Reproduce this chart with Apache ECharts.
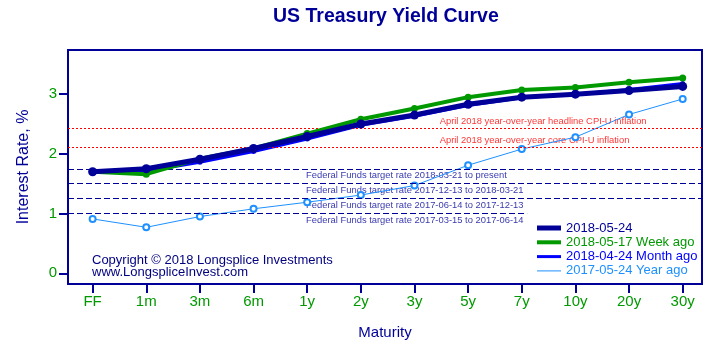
<!DOCTYPE html>
<html><head><meta charset="utf-8">
<script src="https://cdn.jsdelivr.net/npm/echarts@6/dist/echarts.min.js"></script>
<style>html,body{margin:0;padding:0;background:#fff}#c{width:710px;height:360px}</style>
</head><body><div id="c"></div><script>
// ---- data ----
const categories = ['FF','1m','3m','6m','1y','2y','3y','5y','7y','10y','20y','30y'];
const current  = [1.70,1.75,1.91,2.09,2.29,2.50,2.65,2.83,2.95,3.00,3.06,3.13];
const weekAgo  = [1.70,1.66,1.92,2.09,2.34,2.58,2.76,2.95,3.07,3.11,3.20,3.27];
const monthAgo = [1.70,1.71,1.86,2.04,2.25,2.48,2.63,2.81,2.94,3.00,3.08,3.18];
const yearAgo  = [0.91,0.77,0.95,1.08,1.19,1.31,1.47,1.81,2.08,2.28,2.66,2.92];
const seriesNames = ['2018-05-24','2018-05-17 Week ago','2018-04-24 Month ago','2017-05-24 Year ago'];
const yTicks = [0,1,2,3];
const refLevels = [2.43, 2.11, 1.75, 1.50, 1.25, 1.00];
const refTexts = [
  'April 2018 year-over-year headline CPI-U inflation',
  'April 2018 year-over-year core CPI-U inflation',
  'Federal Funds target rate 2018-03-21 to present',
  'Federal Funds target rate 2017-12-13 to 2018-03-21',
  'Federal Funds target rate 2017-06-14 to 2017-12-13',
  'Federal Funds target rate 2017-03-15 to 2017-06-14'
];
const titleText = 'US Treasury Yield Curve';
const copyrightText = 'Copyright \u00a9 2018 Longsplice Investments\nwww.LongspliceInvest.com';

// ---- layout / style ----
const FONT = '"Liberation Sans", Arial, sans-serif';
const NAVY = '#000099', GREEN = '#009900', BLUE = '#0000ff', LIGHT = '#1e90ff', RED = '#ff0000';
const X_MIN = -0.459, X_MAX = 11.36, Y_MIN = -0.18, Y_MAX = 3.74;
const refStyles = [
  {color: RED, type: [2,2]}, {color: RED, type: [2,2]},
  {color: NAVY, type: [6,3]}, {color: NAVY, type: [6,3]}, {color: NAVY, type: [6,3]}, {color: NAVY, type: [6,3]}
];
const refEnds = [X_MAX, X_MAX, X_MAX, X_MAX, X_MAX, 8.1];
const labelX = [6.47, 6.47, 3.98, 3.98, 3.98, 3.98];
const labelDy = [-6.6, -6.6, 6.7, 6.7, 6.7, 6.8];
const labelColor = [RED, RED, NAVY, NAVY, NAVY, NAVY];

const pts = arr => arr.map((v, i) => [i, v]);
const idx = categories.map((_, i) => i);

const chart = echarts.init(document.getElementById('c'), null, {renderer: 'canvas'});
const lineSeries = (name, arr, color, width, symbol, size, z) => ({
  name, type: 'line', data: pts(arr), z,
  symbol, symbolSize: size, showSymbol: true,
  lineStyle: {color, width},
  itemStyle: {color, borderWidth: symbol === 'emptyCircle' ? 1 : 0, borderColor: color},
  emphasis: {disabled: true}, animation: false
});
const legendIcon = (name, h, color) => ({
  name, icon: 'path://M0,0H24V' + h + 'H0Z',
  itemStyle: {color, borderWidth: 0},
  textStyle: {color}
});

const option = {
  animation: false,
  textStyle: {fontFamily: FONT},
  title: [
    {text: titleText, left: 273, top: 7, padding: 0,
     textStyle: {fontFamily: FONT, fontSize: 19.5, fontWeight: 'bold', color: NAVY}},
    {text: copyrightText, left: 92, top: 254, padding: 0,
     textStyle: {fontFamily: FONT, fontSize: 13, fontWeight: 'normal', color: '#000080', lineHeight: 12.4}}
  ],
  grid: {left: 68, right: 8, top: 50, bottom: 76, show: true, borderColor: NAVY, borderWidth: 2, backgroundColor: 'transparent'},
  legend: {
    orient: 'vertical', left: 537, top: 221, padding: 0, itemGap: 0.3,
    itemWidth: 24, itemHeight: 10, symbolKeepAspect: true,
    itemStyle: {borderWidth: 0}, lineStyle: {width: 0},
    textStyle: {fontFamily: FONT, fontSize: 13, lineHeight: 14},
    data: [
      legendIcon(seriesNames[0], 5, NAVY),
      legendIcon(seriesNames[1], 4, GREEN),
      legendIcon(seriesNames[2], 3, BLUE),
      legendIcon(seriesNames[3], 1, LIGHT)
    ]
  },
  xAxis: {
    type: 'value', min: X_MIN, max: X_MAX,
    name: 'Maturity', nameLocation: 'middle', nameGap: 41,
    nameTextStyle: {fontFamily: FONT, fontSize: 15, color: NAVY},
    axisLine: {show: true, onZero: false, lineStyle: {color: NAVY, width: 2}},
    axisTick: {show: true, length: 9, customValues: idx, lineStyle: {color: NAVY, width: 2}},
    axisLabel: {customValues: idx, margin: 10, fontFamily: FONT, fontSize: 15, color: GREEN,
      formatter: v => categories[Math.round(v)]},
    splitLine: {show: false}
  },
  yAxis: {
    type: 'value', min: Y_MIN, max: Y_MAX,
    name: 'Interest Rate, %', nameLocation: 'middle', nameGap: 36,
    nameTextStyle: {fontFamily: FONT, fontSize: 16, color: NAVY},
    axisLine: {show: true, onZero: false, lineStyle: {color: NAVY, width: 2}},
    axisTick: {show: true, length: 9, customValues: yTicks, lineStyle: {color: NAVY, width: 2}},
    axisLabel: {customValues: yTicks, margin: 11, fontFamily: FONT, fontSize: 15, color: GREEN},
    splitLine: {show: false}
  },
  series: [
    {
      name: 'refs', type: 'line', data: [], silent: true, z: 1,
      markLine: {
        silent: true, symbol: ['none','none'], label: {show: false}, animation: false,
        data: refLevels.map((v, i) => [
          {coord: [X_MIN, v], lineStyle: {color: refStyles[i].color, type: refStyles[i].type, width: 1}},
          {coord: [refEnds[i], v]}
        ])
      }
    },
    {
      name: 'refLabels', type: 'scatter', silent: true, z: 2, symbolSize: 0,
      data: refLevels.map((v, i) => ({
        value: [labelX[i], v], name: refTexts[i],
        label: {show: true, position: 'right', distance: 0, offset: [0, labelDy[i]],
          formatter: '{b}', fontFamily: FONT, fontSize: 9.4, color: labelColor[i]}
      }))
    },
    lineSeries(seriesNames[3], yearAgo, LIGHT, 1, 'emptyCircle', 6, 3),
    lineSeries(seriesNames[2], monthAgo, BLUE, 3, 'circle', 5, 4),
    lineSeries(seriesNames[1], weekAgo, GREEN, 4, 'circle', 7, 5),
    lineSeries(seriesNames[0], current, NAVY, 5, 'circle', 9, 6)
  ]
};
chart.setOption(option);
</script></body></html>
